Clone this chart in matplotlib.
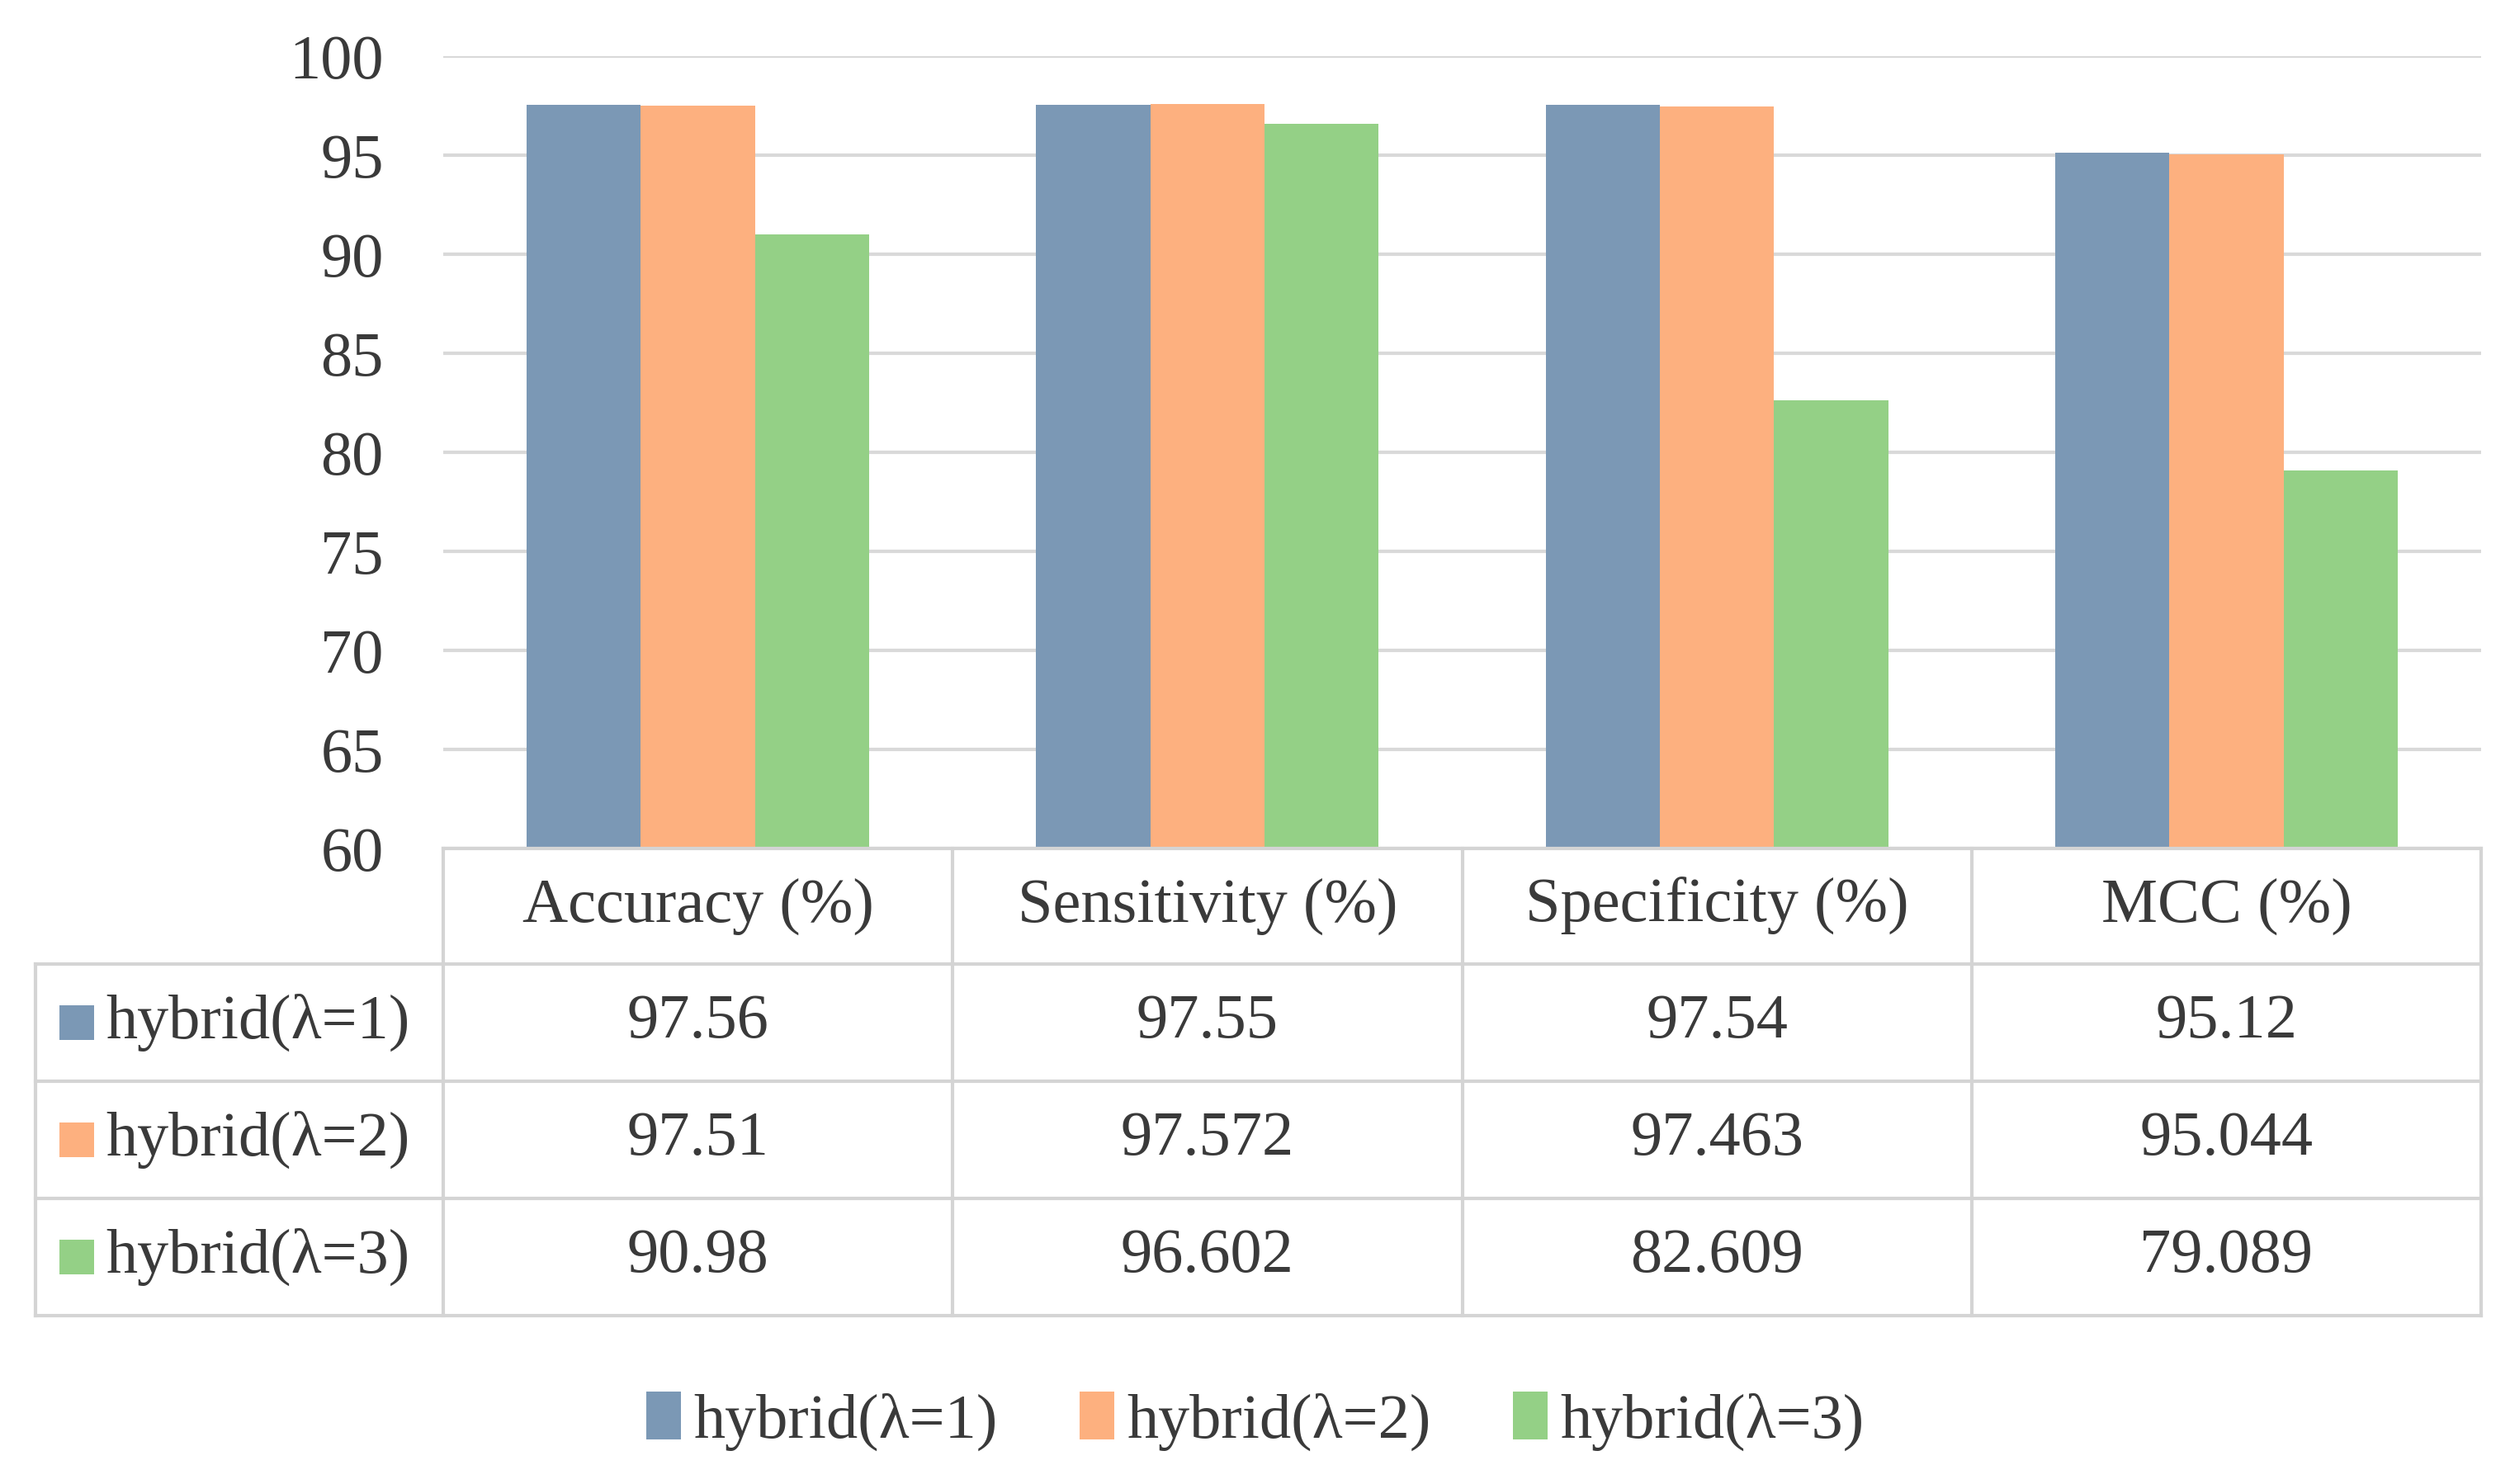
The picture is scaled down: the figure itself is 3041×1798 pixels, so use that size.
import matplotlib
matplotlib.use("Agg")
import matplotlib.pyplot as plt
from matplotlib.transforms import blended_transform_factory
from matplotlib.lines import Line2D
from matplotlib.patches import Rectangle
import numpy as np

categories = ["Accuracy (%)", "Sensitivity (%)", "Specificity (%)", "MCC (%)"]
series_names = ["hybrid(\u03bb=1)", "hybrid(\u03bb=2)", "hybrid(\u03bb=3)"]
vals_l1 = [97.56, 97.55, 97.54, 95.12]
vals_l2 = [97.51, 97.572, 97.463, 95.044]
vals_l3 = [90.98, 96.602, 82.609, 79.089]
labels_l1 = ["97.56", "97.55", "97.54", "95.12"]
labels_l2 = ["97.51", "97.572", "97.463", "95.044"]
labels_l3 = ["90.98", "96.602", "82.609", "79.089"]
yticks = [60, 65, 70, 75, 80, 85, 90, 95, 100]

colors = ["#7B98B5", "#FDB07F", "#94D086"]
text_color = "#3A3A3A"
grid_color = "#D9D9D9"
table_color = "#D4D4D4"

plt.rcParams["font.family"] = ["Liberation Serif", "DejaVu Serif"]
FS = 27.5

W, H = 3041, 1798
DPI = 200
fig = plt.figure(figsize=(W / DPI, H / DPI), dpi=DPI)

def fy(px):
    return 1 - px / H

ax_left, ax_right, ax_top, ax_bottom = 537, 3006, 68, 1028
ax = fig.add_axes([ax_left / W, fy(ax_bottom), (ax_right - ax_left) / W, (ax_bottom - ax_top) / H])

x = np.arange(len(categories))
bw = 0.224
series = [vals_l1, vals_l2, vals_l3]
bars = []
for i, (vals, c, name) in enumerate(zip(series, colors, series_names)):
    b = ax.bar(x + (i - 1) * bw, vals, width=bw, color=c, label=name, zorder=3)
    bars.append(b)

ax.set_xlim(-0.5, len(categories) - 0.5)
ax.set_ylim(60, 100)
ax.set_yticks(yticks)
ax.set_xticks([])
ax.tick_params(axis="y", length=0, pad=26, labelsize=FS, labelcolor=text_color)
for s in ax.spines.values():
    s.set_visible(False)
ax.yaxis.grid(True, color=grid_color, linewidth=1.5, zorder=0)
ax.set_axisbelow(True)

# ---- data table below the axis ----
tr = blended_transform_factory(ax.transData, fig.transFigure)
left_data = -0.5 - (ax_left - 43) / ((ax_right - ax_left) / len(categories))
row_edges_px = [1028, 1168, 1310, 1452, 1594]
lw = 1.5

def hline(x0, x1, ypx):
    fig.add_artist(Line2D([x0, x1], [fy(ypx), fy(ypx)], transform=tr, color=table_color, lw=lw, zorder=5))

def vline(xd, y0px, y1px):
    fig.add_artist(Line2D([xd, xd], [fy(y0px), fy(y1px)], transform=tr, color=table_color, lw=lw, zorder=5))

hline(-0.5, len(categories) - 0.5, row_edges_px[0])
for ypx in row_edges_px[1:]:
    hline(left_data, len(categories) - 0.5, ypx)
vline(left_data, row_edges_px[1], row_edges_px[-1])
for k in range(len(categories) + 1):
    vline(-0.5 + k, row_edges_px[0], row_edges_px[-1])

# header
hy = (row_edges_px[0] + row_edges_px[1]) / 2
for xi, cat in zip(x, categories):
    fig.text(xi, fy(hy), cat, transform=tr, ha="center", va="center", fontsize=FS, color=text_color)

row_labels = [labels_l1, labels_l2, labels_l3]
for r, (labs, c, name) in enumerate(zip(row_labels, colors, series_names)):
    cy = (row_edges_px[r + 1] + row_edges_px[r + 2]) / 2
    for xi, lab in zip(x, labs):
        fig.text(xi, fy(cy), lab, transform=tr, ha="center", va="center", fontsize=FS, color=text_color)
    fig.add_artist(Rectangle((72 / W, fy(cy + 21)), 42 / W, 42 / H, transform=fig.transFigure,
                             facecolor=c, edgecolor="none"))
    fig.text(128 / W, fy(cy), name, ha="left", va="center", fontsize=FS, color=text_color)

# legend
leg = fig.legend(handles=bars, labels=series_names, loc="center", ncol=3, frameon=False,
                 bbox_to_anchor=(0.5, fy(1722)), fontsize=FS, handlelength=0.55, handleheight=0.8,
                 handletextpad=0.2, columnspacing=1.3)
for t in leg.get_texts():
    t.set_color(text_color)

fig.savefig("out.png", dpi=DPI, facecolor="white")
